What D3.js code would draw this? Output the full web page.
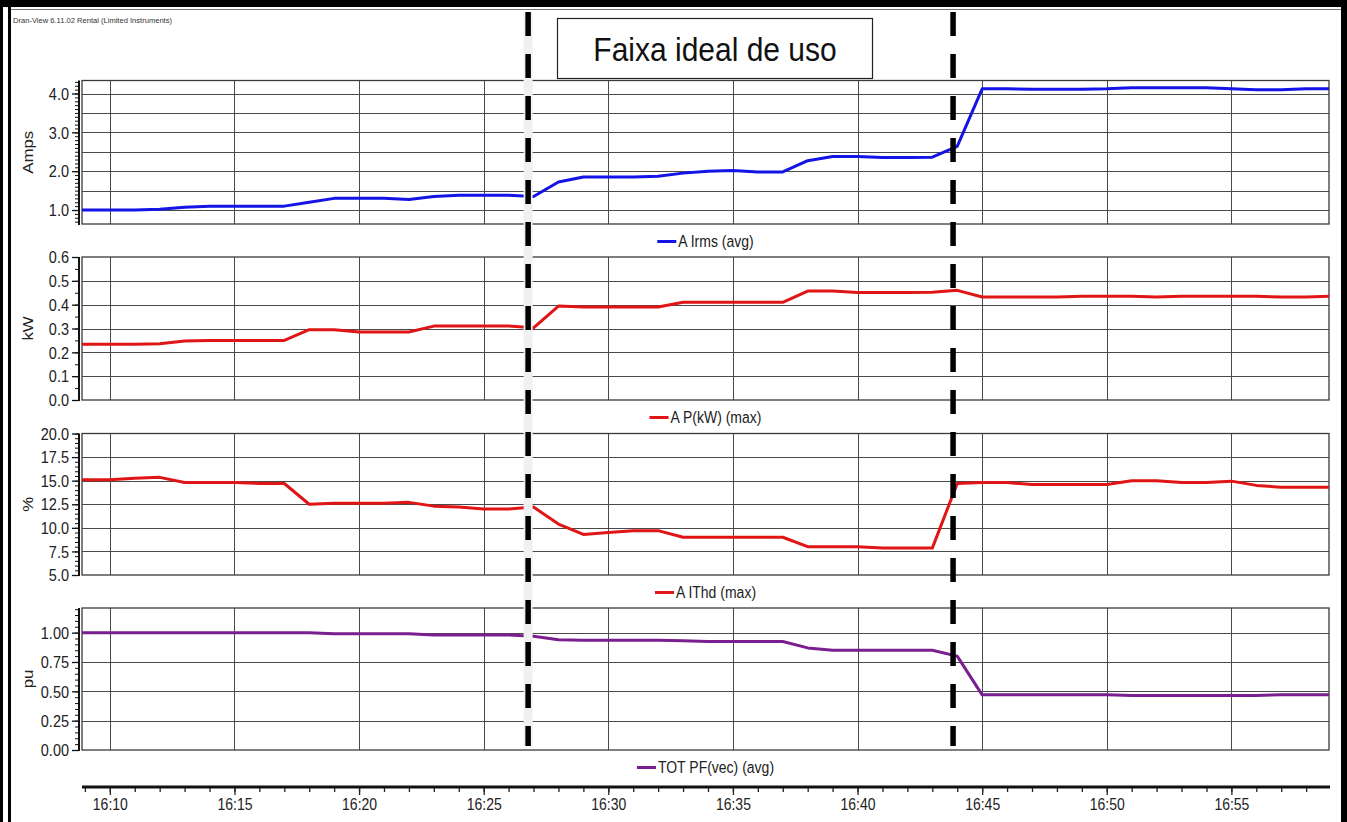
<!DOCTYPE html>
<html><head><meta charset="utf-8">
<script src="https://cdn.jsdelivr.net/npm/d3@7"></script>
<style>body{margin:0;background:#fff}svg{display:block;font-family:"Liberation Sans",Arial,sans-serif}</style>
</head><body>
<svg id="c" width="1347" height="822"></svg>
<script>
// ---------- DATA ----------
const times = ["16:08","16:09","16:10","16:11","16:12","16:13","16:14","16:15","16:16","16:17",
  "16:18","16:19","16:20","16:21","16:22","16:23","16:24","16:25","16:26","16:27",
  "16:28","16:29","16:30","16:31","16:32","16:33","16:34","16:35","16:36","16:37",
  "16:38","16:39","16:40","16:41","16:42","16:43","16:44","16:45","16:46","16:47",
  "16:48","16:49","16:50","16:51","16:52","16:53","16:54","16:55","16:56","16:57",
  "16:58","16:59"];
const ampsIrms = [1.0,1.0,1.0,1.0,1.02,1.07,1.1,1.1,1.1,1.1,
  1.2,1.3,1.3,1.3,1.27,1.35,1.38,1.38,1.38,1.35,
  1.72,1.85,1.85,1.85,1.87,1.95,2.0,2.02,1.98,1.98,
  2.27,2.38,2.38,2.35,2.35,2.36,2.64,4.12,4.12,4.11,
  4.11,4.11,4.12,4.15,4.15,4.15,4.15,4.12,4.1,4.1,
  4.12,4.12];
const powerKW = [0.234,0.234,0.234,0.234,0.236,0.248,0.25,0.25,0.25,0.25,
  0.295,0.295,0.285,0.285,0.285,0.31,0.31,0.31,0.31,0.303,
  0.394,0.39,0.39,0.39,0.39,0.41,0.41,0.41,0.41,0.41,
  0.457,0.457,0.451,0.451,0.451,0.452,0.46,0.432,0.432,0.432,
  0.432,0.435,0.435,0.435,0.432,0.435,0.435,0.435,0.435,0.432,
  0.432,0.436];
const ithdPct = [15.1,15.1,15.1,15.25,15.35,14.8,14.8,14.8,14.7,14.7,
  12.5,12.6,12.6,12.6,12.7,12.3,12.2,12.0,12.0,12.2,
  10.4,9.3,9.5,9.7,9.7,9.0,9.0,9.0,9.0,9.0,
  8.0,8.0,8.0,7.85,7.85,7.85,14.7,14.8,14.8,14.6,
  14.6,14.6,14.6,15.0,15.0,14.8,14.8,14.95,14.5,14.3,
  14.3,14.3];
const powerFactor = [1.0,1.0,1.0,1.0,1.0,1.0,1.0,1.0,1.0,1.0,
  1.0,0.99,0.99,0.99,0.99,0.98,0.98,0.98,0.98,0.97,
  0.94,0.935,0.935,0.935,0.935,0.93,0.925,0.925,0.925,0.925,
  0.87,0.85,0.85,0.85,0.85,0.85,0.80,0.47,0.47,0.47,
  0.47,0.47,0.47,0.465,0.465,0.465,0.465,0.465,0.465,0.47,
  0.47,0.47];
const ampsTicks = [1.0,2.0,3.0,4.0];
const ampsGrid = [1.0,1.5,2.0,2.5,3.0,3.5,4.0];
const kwTicks = [0.0,0.1,0.2,0.3,0.4,0.5,0.6];
const thdTicks = [5.0,7.5,10.0,12.5,15.0,17.5,20.0];
const pfTicks = [0.00,0.25,0.50,0.75,1.00];
const markerTimes = ["16:26:47","16:43:50"];
const bandLabel = "Faixa ideal de uso";
const headerText = "Dran-View 6.11.02 Rental (Limited Instruments)";
const timeDomain = ["16:08:53","16:58:55"];

// ---------- LAYOUT ----------
const svg = d3.select("#c");
const W = 1347, H = 822;
const pL = 82, pR = 1329;
const parseM = d3.timeParse("%H:%M"), parseS = d3.timeParse("%H:%M:%S");
const tDates = times.map(parseM);
const x = d3.scaleTime().domain(timeDomain.map(parseS)).range([pL, pR]);

const panels = [
  {title:"Amps", legend:"A Irms (avg)", color:"#1414e6", values:ampsIrms, domain:[0.64,4.335], top:80.5, bottom:224,
   ticks:ampsTicks, grid:ampsGrid, minor:0.1, fmt:d3.format(".1f")},
  {title:"kW", legend:"A P(kW) (max)", color:"#e01515", values:powerKW, domain:[0,0.6], top:257, bottom:400,
   ticks:kwTicks, grid:kwTicks, minor:0.05, fmt:d3.format(".1f")},
  {title:"%", legend:"A IThd (max)", color:"#e01515", values:ithdPct, domain:[5,20], top:433.5, bottom:575,
   ticks:thdTicks, grid:thdTicks, minor:0.5, fmt:d3.format(".1f")},
  {title:"pu", legend:"TOT PF(vec) (avg)", color:"#7a1f90", values:powerFactor, domain:[0,1.21], top:608, bottom:750,
   ticks:pfTicks, grid:pfTicks, minor:0.05, fmt:d3.format(".2f")}
];

// frame
svg.append("rect").attr("x",0).attr("y",0).attr("width",W).attr("height",7).attr("fill","#000");
svg.append("rect").attr("x",0).attr("y",0).attr("width",3).attr("height",H).attr("fill","#000");
svg.append("rect").attr("x",8).attr("y",7).attr("width",3).attr("height",H).attr("fill","#000");
svg.append("rect").attr("x",1341).attr("y",0).attr("width",6).attr("height",H).attr("fill","#000");
svg.append("line").attr("x1",11).attr("x2",1341).attr("y1",9.5).attr("y2",9.5).attr("stroke","#777").attr("stroke-width",1);

svg.append("text").attr("x",13).attr("y",23).attr("font-size",7).attr("fill","#333")
  .attr("textLength",159).attr("lengthAdjust","spacingAndGlyphs").text(headerText);

const fiveMin = x.ticks(d3.timeMinute.every(5));
const defs = svg.append("defs");

panels.forEach((p,i) => {
  const y = d3.scaleLinear().domain(p.domain).range([p.bottom, p.top]);
  const g = svg.append("g");
  // grid
  g.selectAll(".hg").data(p.grid.filter(v => y(v) > p.top+1 && y(v) < p.bottom-1)).join("line")
    .attr("x1",pL).attr("x2",pR).attr("y1",d=>Math.round(y(d))+0.5).attr("y2",d=>Math.round(y(d))+0.5)
    .attr("stroke","#4a4a4a").attr("stroke-width",1.2);
  g.selectAll(".vg").data(fiveMin).join("line")
    .attr("x1",d=>Math.round(x(d))+0.5).attr("x2",d=>Math.round(x(d))+0.5).attr("y1",p.top).attr("y2",p.bottom)
    .attr("stroke","#4a4a4a").attr("stroke-width",1);
  g.append("rect").attr("x",pL).attr("y",p.top).attr("width",pR-pL).attr("height",p.bottom-p.top)
    .attr("fill","none").attr("stroke","#3a3a3a").attr("stroke-width",1.3);

  // y axis
  const minorVals = d3.range(Math.ceil(p.domain[0]/p.minor), Math.floor(p.domain[1]/p.minor)+1).map(k=>+(k*p.minor).toFixed(3));
  const ax = svg.append("g").attr("transform","translate(79,0)");
  ax.call(d3.axisLeft(y).tickValues(minorVals).tickSize(4).tickSizeOuter(0).tickFormat(""));
  ax.select(".domain").remove();
  ax.selectAll("line").attr("stroke","#111");
  const ax2 = svg.append("g").attr("transform","translate(79,0)");
  ax2.call(d3.axisLeft(y).tickValues(p.ticks).tickSize(7).tickPadding(3).tickSizeOuter(0).tickFormat(p.fmt));
  ax2.select(".domain").remove();
  ax2.selectAll("line").attr("stroke","#111").attr("stroke-width",1.3);
  ax2.selectAll("text").attr("font-size",14.5).attr("fill","#222").attr("font-family","Liberation Sans, Arial, sans-serif")
    .each(function(){ const t=d3.select(this); t.attr("transform","translate(-10,0) scale(1,1.12)").attr("x",0).attr("dy","0.35em"); });
  svg.append("line").attr("x1",79).attr("x2",79).attr("y1",p.top).attr("y2",p.bottom+1).attr("stroke","#111").attr("stroke-width",2);

  // axis title
  svg.append("text").attr("transform",`translate(33,${(p.top+p.bottom)/2}) scale(1,1.2) rotate(-90)`)
    .attr("text-anchor","middle").attr("font-size",14).attr("fill","#222").text(p.title);

  // line
  const cid = "clip"+i;
  defs.append("clipPath").attr("id",cid).append("rect").attr("x",pL).attr("y",p.top-3).attr("width",pR-pL).attr("height",p.bottom-p.top+6);
  const line = d3.line().x((d,k)=>x(tDates[k])).y(d=>y(d));
  svg.append("path").attr("clip-path",`url(#${cid})`).attr("d",line(p.values))
    .attr("fill","none").attr("stroke",p.color).attr("stroke-width",3).attr("stroke-linejoin","round");

  // legend
  const lg = svg.append("g");
  const ly = p.bottom + 17.5;
  const txt = lg.append("text").attr("font-size",14).attr("fill","#222")
    .attr("transform",`translate(0,${ly}) scale(1,1.22)`).attr("dy","0.35em").text(p.legend);
  const tw = txt.node().getComputedTextLength();
  const total = 19 + 2 + tw;
  const lx = (pL+pR)/2 - total/2;
  lg.append("line").attr("x1",lx).attr("x2",lx+19).attr("y1",ly).attr("y2",ly).attr("stroke",p.color).attr("stroke-width",3);
  txt.attr("transform",`translate(${lx+21},${ly}) scale(1,1.22)`);
});

// markers (dashed lines)
const mk = markerTimes.map(parseS);
svg.append("line").attr("x1",x(mk[0])).attr("x2",x(mk[0])).attr("y1",12).attr("y2",746)
  .attr("stroke","#f0f0f0").attr("stroke-width",9);
mk.forEach(t => {
  svg.append("line").attr("x1",x(t)).attr("x2",x(t)).attr("y1",12).attr("y2",746)
    .attr("stroke","#000").attr("stroke-width",5.5).attr("stroke-dasharray","24,18");
});

// band label box
svg.append("rect").attr("x",557.5).attr("y",18.5).attr("width",315).attr("height",60)
  .attr("fill","#fff").attr("stroke","#222").attr("stroke-width",1.2);
svg.append("text").attr("transform",`translate(${(557.5+872.5)/2},49) scale(1,1.1)`).attr("text-anchor","middle")
  .attr("dy","0.35em").attr("font-size",30).attr("fill","#111").text(bandLabel);

// x axis
const xg = svg.append("g").attr("transform","translate(0,787)");
xg.call(d3.axisBottom(x).ticks(d3.timeMinute.every(1)).tickSize(5).tickSizeOuter(0).tickFormat(""));
xg.select(".domain").remove();
xg.selectAll("line").attr("stroke","#222").attr("stroke-width",1.3);
const xg2 = svg.append("g").attr("transform","translate(0,787)");
xg2.call(d3.axisBottom(x).ticks(d3.timeMinute.every(5)).tickSize(8).tickPadding(6).tickSizeOuter(0).tickFormat(d3.timeFormat("%H:%M")));
xg2.select(".domain").remove();
xg2.selectAll("line").attr("stroke","#222").attr("stroke-width",1.3);
xg2.selectAll("text").attr("font-size",14).attr("fill","#222").attr("font-family","Liberation Sans, Arial, sans-serif")
  .attr("transform","translate(0,17) scale(1,1.2)").attr("y",0).attr("dy","0.35em");
svg.append("line").attr("x1",pL).attr("x2",pR+1).attr("y1",787).attr("y2",787).attr("stroke","#111").attr("stroke-width",3);
</script>
</body></html>
